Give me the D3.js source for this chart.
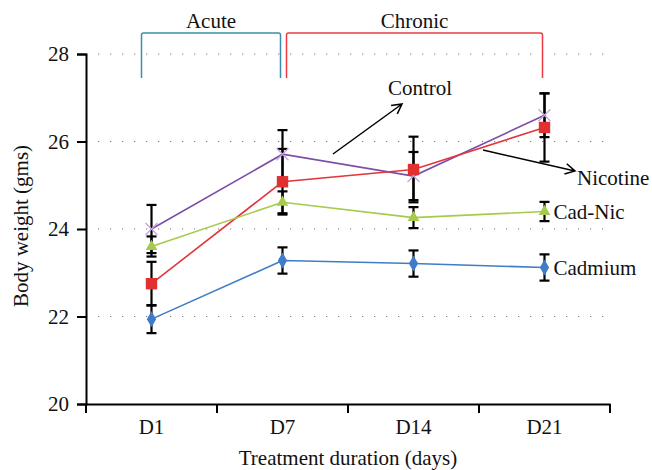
<!DOCTYPE html>
<html>
<head>
<meta charset="utf-8">
<script src="https://cdn.jsdelivr.net/npm/d3@7"></script>
<style>
body{margin:0;background:#fff;}
</style>
</head>
<body>
<svg width="652" height="470"></svg>
<script>
// data
var days = ['D1', 'D7', 'D14', 'D21'];
var yTicks = [20, 22, 24, 26, 28];
var gridTicks = [22, 24, 26, 28];

var control = [24.0, 25.71, 25.21, 26.6];
var controlErr = [0.55, 0.55, 0.55, 0.5];
var nicotine = [22.75, 25.08, 25.36, 26.32];
var nicotineErr = [0.5, 0.75, 0.75, 0.78];
var cadNic = [23.6, 24.61, 24.26, 24.4];
var cadNicErr = [0.23, 0.25, 0.24, 0.22];
var cadmium = [21.94, 23.28, 23.21, 23.12];
var cadmiumErr = [0.32, 0.3, 0.3, 0.3];

var width = 652, height = 470;
var margin = {left: 86, right: 42, top: 54, bottom: 66};
var FONT = 'Liberation Serif';
var FS = 21;

var svg = d3.select('svg');

// every text gets the serif font straight on the element
function label(sel){
	return sel.attr('font-family', FONT).attr('font-size', FS).attr('fill', '#111');
}

var x = d3.scaleBand().domain(days).range([margin.left, width - margin.right]).padding(0);
var y = d3.scaleLinear().domain([20, 28]).range([height - margin.bottom, margin.top]);
function cx(d){ return x(d) + x.bandwidth() / 2; }

// dotted grid
svg.append('g').selectAll('line').data(gridTicks).enter().append('line')
	.attr('x1', margin.left).attr('x2', width - margin.right)
	.attr('y1', function(d){ return y(d); }).attr('y2', function(d){ return y(d); })
	.attr('stroke', '#777').attr('stroke-width', 1.2)
	.attr('stroke-dasharray', '1.2,10.8');

// axes
var yAxis = d3.axisLeft(y).tickValues(yTicks).tickSize(9).tickPadding(8);
var gy = svg.append('g').attr('transform', 'translate(' + margin.left + ',0)').call(yAxis);
var xAxis = d3.axisBottom(x).tickSize(0).tickPadding(15);
var gx = svg.append('g').attr('transform', 'translate(0,' + (height - margin.bottom) + ')').call(xAxis);
[gx, gy].forEach(function(g){
	g.attr('font-family', FONT).attr('font-size', FS);
	g.select('.domain').attr('stroke', '#000').attr('stroke-width', 2);
	g.selectAll('.tick line').attr('stroke', '#000').attr('stroke-width', 2);
	label(g.selectAll('.tick text'));
});
// x ticks sit on the band edges
var edges = days.map(function(d){ return x(d); }).concat([x(days[days.length - 1]) + x.bandwidth()]);
gx.selectAll('.edge').data(edges).enter().append('line')
	.attr('x1', function(d){ return d; }).attr('x2', function(d){ return d; })
	.attr('y1', 0).attr('y2', 9)
	.attr('stroke', '#000').attr('stroke-width', 2);

// axis titles
label(svg.append('text')).attr('x', (margin.left + width - margin.right) / 2).attr('y', 465)
	.attr('text-anchor', 'middle').text('Treatment duration (days)');
label(svg.append('text')).attr('transform', 'translate(28,226) rotate(-90)')
	.attr('text-anchor', 'middle').text('Body weight (gms)');

var series = [
	{name: 'Control', values: control, err: controlErr, color: '#7b4ea8', mark: 'x', fill: '#c9a6dc'},
	{name: 'Nicotine', values: nicotine, err: nicotineErr, color: '#e2363a', mark: 'square', fill: '#e0302f'},
	{name: 'Cad-Nic', values: cadNic, err: cadNicErr, color: '#a5cb4d', mark: 'triangle', fill: '#a5cb4d'},
	{name: 'Cadmium', values: cadmium, err: cadmiumErr, color: '#3f7dc8', mark: 'diamond', fill: '#3f7dc8'}
];

var line = d3.line().x(function(d, i){ return cx(days[i]); }).y(function(d){ return y(d); });

// lines
svg.append('g').selectAll('path').data(series).enter().append('path')
	.attr('d', function(s){ return line(s.values); })
	.attr('fill', 'none').attr('stroke', function(s){ return s.color; }).attr('stroke-width', 1.6);

// error bars
var capHalf = 5;
series.forEach(function(s){
	var g = svg.append('g').attr('stroke', '#000').attr('stroke-width', 2.2);
	s.values.forEach(function(v, i){
		var px = cx(days[i]);
		var hi = y(v + s.err[i]), lo = y(v - s.err[i]);
		g.append('line').attr('x1', px).attr('x2', px).attr('y1', hi).attr('y2', lo);
		g.append('line').attr('x1', px - capHalf).attr('x2', px + capHalf).attr('y1', hi).attr('y2', hi);
		g.append('line').attr('x1', px - capHalf).attr('x2', px + capHalf).attr('y1', lo).attr('y2', lo);
	});
});

// markers
var symbols = {
	square: d3.symbol().type(d3.symbolSquare).size(130),
	triangle: d3.symbol().type(d3.symbolTriangle).size(60),
	diamond: d3.symbol().type(d3.symbolDiamond).size(75)
};
series.forEach(function(s){
	var g = svg.append('g');
	s.values.forEach(function(v, i){
		var px = cx(days[i]), py = y(v);
		if (s.mark == 'x') {
			var r = 6;
			g.append('path')
				.attr('d', 'M' + (px - r) + ',' + (py - r) + 'L' + (px + r) + ',' + (py + r) + 'M' + (px - r) + ',' + (py + r) + 'L' + (px + r) + ',' + (py - r))
				.attr('stroke', s.fill).attr('stroke-width', 1.4).attr('fill', 'none');
		} else {
			g.append('path').attr('d', symbols[s.mark]())
				.attr('transform', 'translate(' + px + ',' + py + ')')
				.attr('fill', s.fill);
		}
	});
});

// labels beside the last point
var last = days.length - 1;
[series[2], series[3]].forEach(function(s){
	label(svg.append('text')).attr('x', cx(days[last]) + 9).attr('y', y(s.values[last]))
		.attr('dy', '0.35em').text(s.name);
});

// arrow labels
function arrow(x1, y1, x2, y2){
	var a = Math.atan2(y2 - y1, x2 - x1), h = 11, w = 0.5;
	var p = 'M' + x1 + ',' + y1 + 'L' + x2 + ',' + y2 +
		'M' + (x2 - h * Math.cos(a - w)) + ',' + (y2 - h * Math.sin(a - w)) + 'L' + x2 + ',' + y2 +
		'L' + (x2 - h * Math.cos(a + w)) + ',' + (y2 - h * Math.sin(a + w));
	svg.append('path').attr('d', p).attr('stroke', '#000').attr('stroke-width', 1.5).attr('fill', 'none');
}
arrow(333, 154, 402, 104);
label(svg.append('text')).attr('x', 388).attr('y', 95).text('Control');
arrow(483, 150, 575, 171);
label(svg.append('text')).attr('x', 577).attr('y', 185).text('Nicotine');

// phase brackets
var phases = [
	{name: 'Acute', from: 0, to: 1, color: '#3b8ea5', x0: -10, x1: -2},
	{name: 'Chronic', from: 1, to: 3, color: '#ee3b3f', x0: 4, x1: -2}
];
phases.forEach(function(p){
	var xa = cx(days[p.from]) + p.x0, xb = cx(days[p.to]) + p.x1;
	svg.append('path')
		.attr('d', 'M' + xa + ',78L' + xa + ',35Q' + xa + ',33 ' + (xa + 2) + ',33L' + (xb - 2) + ',33Q' + xb + ',33 ' + xb + ',35L' + xb + ',78')
		.attr('fill', 'none').attr('stroke', p.color).attr('stroke-width', 1.5);
	label(svg.append('text')).attr('x', (xa + xb) / 2).attr('y', 28).attr('text-anchor', 'middle')
		.text(p.name);
});
</script>
</body>
</html>
